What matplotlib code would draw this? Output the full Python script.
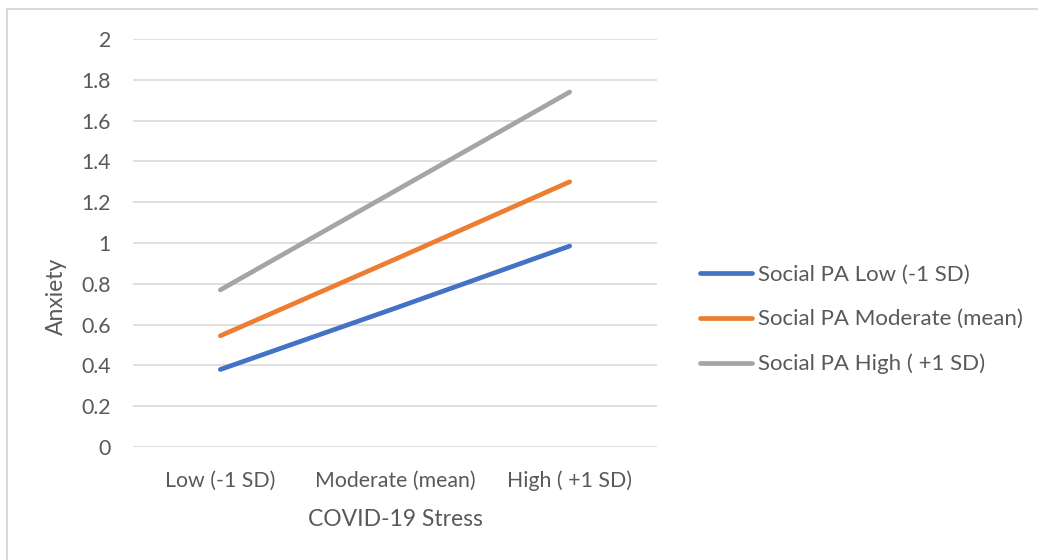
import matplotlib
matplotlib.use('Agg')
import matplotlib.pyplot as plt
from matplotlib.patches import Rectangle

plt.rcParams['font.family'] = ['Lato', 'DejaVu Sans']

categories = ['Low (-1 SD)', 'Moderate (mean)', 'High ( +1 SD)']
series_names = ['Social PA Low (-1 SD)', 'Social PA Moderate (mean)', 'Social PA High ( +1 SD)']
low_pa = [0.38, 0.68, 0.985]
moderate_pa = [0.545, 0.92, 1.30]
high_pa = [0.77, 1.255, 1.74]
yticks = [0, 0.2, 0.4, 0.6, 0.8, 1, 1.2, 1.4, 1.6, 1.8, 2]
ytick_labels = ['0', '0.2', '0.4', '0.6', '0.8', '1', '1.2', '1.4', '1.6', '1.8', '2']

colors = ['#4472C4', '#ED7D31', '#A5A5A5']
text_col = '#595959'

fig = plt.figure(figsize=(10.38, 5.60), dpi=100)
ax = fig.add_axes([133 / 1038, 1 - 447 / 560, 524 / 1038, 408 / 560])

x = range(len(categories))
for vals, name, c in zip([low_pa, moderate_pa, high_pa], series_names, colors):
    ax.plot(x, vals, color=c, lw=3.4, solid_capstyle='round', label=name)

ax.set_xlim(-0.5, 2.5)
ax.set_ylim(0, 2)
ax.set_yticks(yticks)
ax.set_yticklabels(ytick_labels)
ax.set_xticks(list(x))
ax.set_xticklabels(categories)
ax.grid(axis='y', color='#D9D9D9', lw=1.2)
ax.set_axisbelow(True)
for s in ax.spines.values():
    s.set_visible(False)
ax.tick_params(axis='both', length=0, labelsize=15.3, colors=text_col)
ax.tick_params(axis='y', pad=16)
ax.tick_params(axis='x', pad=17)

ax.set_xlabel('COVID-19 Stress', fontsize=16.5, color=text_col, labelpad=13)
ax.set_ylabel('Anxiety', fontsize=16.5, color=text_col)
ax.yaxis.set_label_coords(-0.126, 0.37)

leg = fig.legend(loc='upper left', bbox_to_anchor=(691 / 1038, 1 - 256 / 560),
                 frameon=False, fontsize=16, handlelength=2.35, handletextpad=0.27,
                 labelspacing=1.1, borderaxespad=0)
for t in leg.get_texts():
    t.set_color(text_col)

# outer chart border
fig.patches.append(Rectangle((6.5 / 1038, -0.01), 1.1, 1 - 8.5 / 560 + 0.01,
                             transform=fig.transFigure, fill=False,
                             edgecolor='#D9D9D9', lw=1.5))

fig.savefig('out.png', dpi=100)
